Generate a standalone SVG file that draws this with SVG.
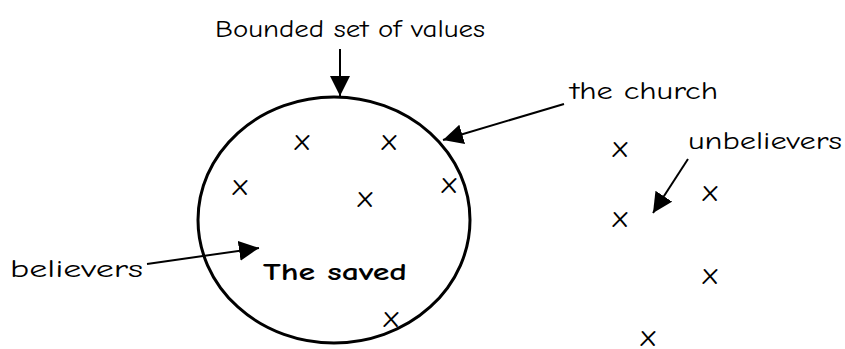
<svg xmlns="http://www.w3.org/2000/svg" width="845" height="349" viewBox="0 0 845 349">
<style>
text{font-family:"Comic Neue","Open Sans","Liberation Sans",sans-serif;font-size:25px;fill:#000}
.x{text-anchor:middle;font-size:31px}
.b{font-weight:bold}
.c{stroke:#000;stroke-width:2;fill:none}
</style>
<defs>
<marker id="ah2" viewBox="0 0 10 10" refX="10" refY="5" markerWidth="20" markerHeight="20" markerUnits="userSpaceOnUse" orient="auto">
<path d="M0,0 L10,5 L0,10 z" fill="#000"/>
</marker>
</defs>
<g id="church">
<ellipse cx="334" cy="220" rx="136" ry="123" stroke="#000" stroke-width="3" fill="none"/>
<text x="263" y="280" class="b" textLength="144" lengthAdjust="spacingAndGlyphs">The saved</text>
</g>
<g id="labels">
<text x="215" y="37" textLength="270" lengthAdjust="spacingAndGlyphs">Bounded set of values</text>
<text x="570" y="99" textLength="148" lengthAdjust="spacingAndGlyphs">the church</text>
<text x="688" y="149" textLength="154" lengthAdjust="spacingAndGlyphs">unbelievers</text>
<text x="10" y="277" textLength="133" lengthAdjust="spacingAndGlyphs">believers</text>
</g>
<g id="marks">
<text x="302" y="150" class="x">x</text>
<text x="389" y="150" class="x">x</text>
<text x="240" y="195" class="x">x</text>
<text x="365" y="207" class="x">x</text>
<text x="449" y="193" class="x">x</text>
<text x="391" y="327" class="x">x</text>
<text x="620" y="157" class="x">x</text>
<text x="620" y="227" class="x">x</text>
<text x="710" y="201" class="x">x</text>
<text x="710" y="284" class="x">x</text>
<text x="648" y="346" class="x">x</text>
</g>
<g id="connectors">
<line x1="340" y1="49" x2="340" y2="96" class="c" marker-end="url(#ah2)"/>
<line x1="564" y1="104" x2="443" y2="140" class="c" marker-end="url(#ah2)"/>
<line x1="688" y1="159" x2="653" y2="213" class="c" marker-end="url(#ah2)"/>
<line x1="147" y1="264" x2="259" y2="248" class="c" marker-end="url(#ah2)"/>
</g>
</svg>
